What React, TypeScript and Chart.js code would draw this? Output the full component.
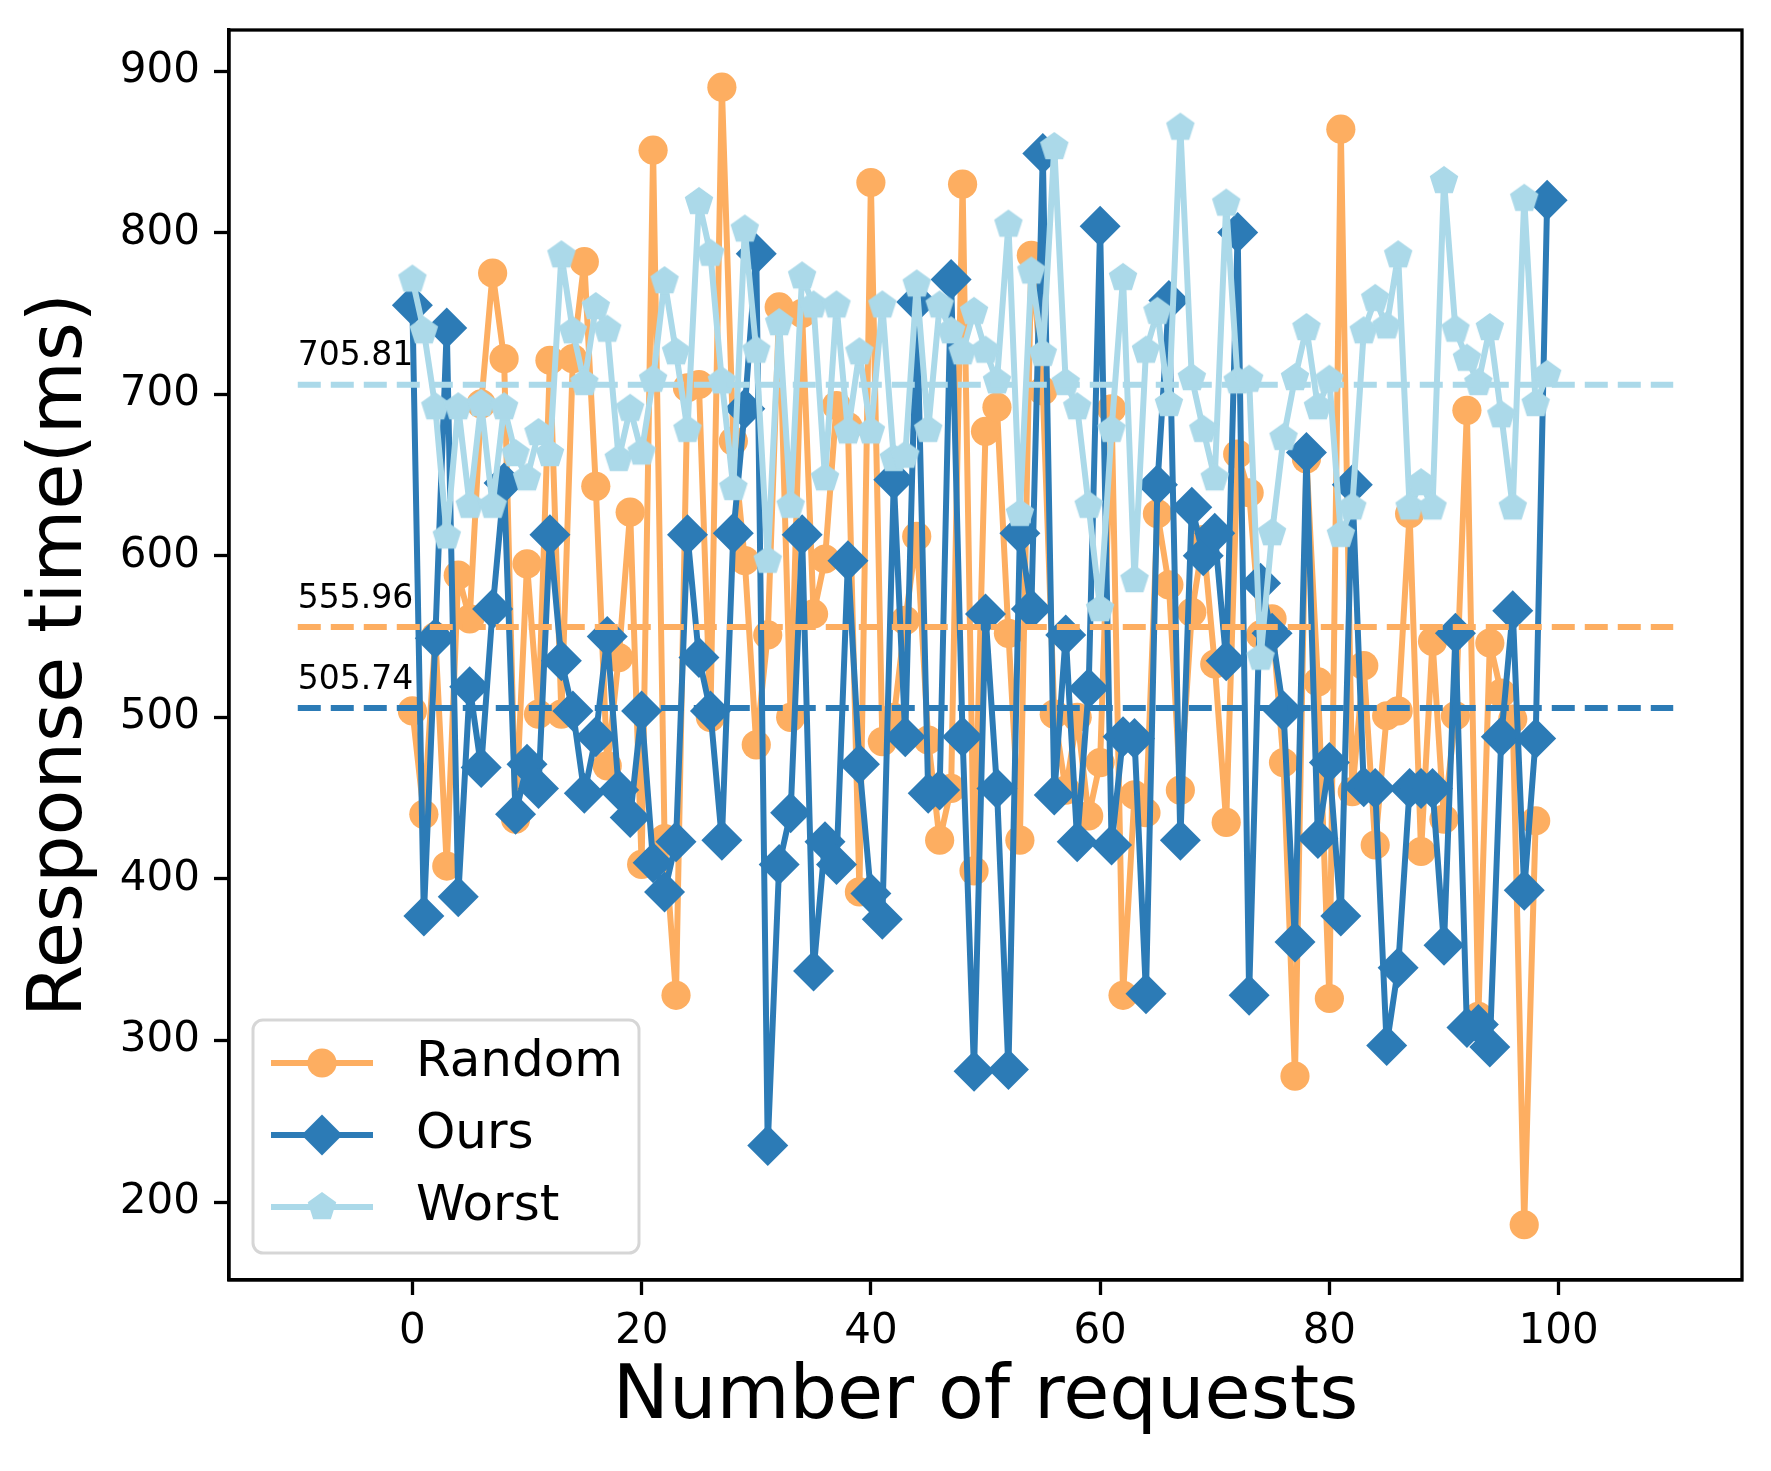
import { useEffect, useRef } from "react";
import { Chart, registerables } from "chart.js";

Chart.register(...registerables);

const W = 1771;
const H = 1471;

const seriesNames = ["Random", "Ours", "Worst"];
const seriesColors = ["#fdae61", "#2c7bb6", "#abd9e9"];

// response times per request
const randomTimes = [
  504, 440, 550, 408, 588, 561, 694, 775, 722, 437,
  595, 502, 721, 502, 722, 782, 643, 470, 537, 627,
  409, 851, 425, 328, 704, 706, 500, 890, 671, 597,
  483, 551, 754, 500, 750, 564, 598, 693, 680, 392,
  831, 485, 500, 560, 612, 486, 424, 456, 830, 405,
  677, 692, 552, 424, 786, 702, 502, 455, 500, 439,
  472, 691, 328, 452, 441, 626, 582, 455, 565, 610,
  533, 435, 663, 639, 551, 561, 472, 278, 660, 522,
  326, 864, 454, 532, 421, 501, 504, 626, 417, 547,
  437, 501, 690, 315, 546, 515, 499, 186, 436,
];

const oursTimes = [
  755, 377, 549, 741, 389, 519, 469, 567, 645, 440,
  471, 456, 613, 535, 504, 453, 488, 550, 455, 438,
  504, 410, 392, 423, 613, 537, 504, 424, 614, 691,
  787, 235, 409, 441, 613, 343, 423, 409, 597, 471,
  391, 375, 647, 488, 757, 453, 455, 771, 488, 281,
  564, 456, 282, 614, 567, 849, 452, 551, 423, 518,
  804, 421, 488, 487, 329, 644, 758, 424, 630, 600,
  614, 535, 800, 328, 583, 552, 504, 361, 664, 425,
  472, 377, 644, 457, 456, 297, 345, 456, 456, 456,
  359, 552, 308, 310, 296, 488, 566, 393, 487, 820,
];

const worstTimes = [
  771, 739, 692, 612, 692, 631, 694, 631, 692, 663,
  648, 676, 663, 786, 739, 707, 754, 740, 660, 691,
  664, 709, 770, 726, 678, 819, 787, 708, 642, 802,
  727, 597, 744, 631, 773, 755, 648, 755, 677, 726,
  677, 755, 660, 662, 768, 678, 755, 739, 726, 751,
  727, 708, 805, 626, 776, 725, 853, 707, 692, 631,
  567, 678, 772, 585, 727, 751, 694, 865, 710, 678,
  648, 818, 708, 709, 537, 614, 673, 710, 741, 692,
  709, 613, 630, 739, 759, 742, 786, 630, 645, 630,
  832, 740, 722, 707, 741, 687, 630, 821, 694, 712,
];

const meanValues = [555.96, 505.74, 705.81];

const xTicks = [0, 20, 40, 60, 80, 100];
const yTicks = [200, 300, 400, 500, 600, 700, 800, 900];

function makePentagon(color: string, r: number) {
  const size = Math.ceil(r * 2) + 4;
  const c = document.createElement("canvas");
  c.width = size;
  c.height = size;
  const g = c.getContext("2d")!;
  g.fillStyle = color;
  g.beginPath();
  for (let k = 0; k < 5; k++) {
    const a = -Math.PI / 2 + (k * 2 * Math.PI) / 5;
    const px = size / 2 + r * Math.cos(a);
    const py = size / 2 + r * Math.sin(a);
    if (k === 0) g.moveTo(px, py);
    else g.lineTo(px, py);
  }
  g.closePath();
  g.fill();
  return c;
}

const CIRCLE_R = 14.6;
const DIAMOND_R = 20.5;
const PENT_R = 15;

function drawMarker(ctx: CanvasRenderingContext2D, k: number, x: number, y: number, pent: HTMLCanvasElement) {
  ctx.fillStyle = seriesColors[k];
  if (k === 0) {
    ctx.beginPath();
    ctx.arc(x, y, CIRCLE_R, 0, Math.PI * 2);
    ctx.fill();
  } else if (k === 1) {
    ctx.beginPath();
    ctx.moveTo(x - DIAMOND_R, y);
    ctx.lineTo(x, y - DIAMOND_R);
    ctx.lineTo(x + DIAMOND_R, y);
    ctx.lineTo(x, y + DIAMOND_R);
    ctx.closePath();
    ctx.fill();
  } else {
    ctx.drawImage(pent, x - pent.width / 2, y - pent.height / 2);
  }
}

export default function App() {
  const canvasRef = useRef<HTMLCanvasElement>(null);
  const chartInstance = useRef<Chart | null>(null);

  useEffect(() => {
    if (!canvasRef.current) return;
    const ctx = canvasRef.current.getContext("2d");
    if (!ctx) return;

    if (chartInstance.current) {
      chartInstance.current.destroy();
    }

    const pentagon = makePentagon(seriesColors[2], PENT_R);

    const seriesSets = [randomTimes, oursTimes, worstTimes].map((vals, k) => ({
      type: "line" as const,
      label: seriesNames[k],
      data: vals.map((v, i) => ({ x: i, y: v })),
      borderColor: seriesColors[k],
      backgroundColor: seriesColors[k],
      borderWidth: 6,
      borderJoinStyle: "round" as const,
      pointStyle: ["circle", "rectRot", pentagon][k] as any,
      pointRadius: [CIRCLE_R, DIAMOND_R, PENT_R][k],
      pointBorderWidth: 0,
      tension: 0,
      order: 5 - k,
    }));

    const meanSets = meanValues.map((m, k) => ({
      type: "line" as const,
      label: "mean " + seriesNames[k],
      data: [
        { x: -10, y: m },
        { x: 110, y: m },
      ],
      borderColor: seriesColors[k],
      borderWidth: 6,
      borderDash: [23, 10],
      pointRadius: 0,
      order: k,
    }));

    const extras = {
      id: "extras",
      afterDatasetsDraw(chart: any) {
        const { ctx: c, chartArea: a, scales } = chart;
        c.save();

        // mean value labels
        c.font = "33px 'DejaVu Sans'";
        c.fillStyle = "#000";
        c.textAlign = "left";
        c.textBaseline = "alphabetic";
        meanValues.forEach((m) => {
          c.fillText(m.toFixed(2), scales.x.getPixelForValue(-10), scales.y.getPixelForValue(m + 12));
        });

        // axes frame
        c.strokeStyle = "#000";
        c.lineWidth = 3.3;
        c.strokeRect(a.left, a.top, a.right - a.left, a.bottom - a.top);

        // legend
        const bx = a.left + 24;
        const by = a.bottom - 260;
        const bw = 386;
        const bh = 233;
        c.beginPath();
        c.roundRect(bx, by, bw, bh, 10);
        c.fillStyle = "rgba(255,255,255,0.8)";
        c.fill();
        c.strokeStyle = "rgba(204,204,204,0.8)";
        c.lineWidth = 3;
        c.stroke();

        c.font = "50px 'DejaVu Sans'";
        c.textBaseline = "middle";
        seriesNames.forEach((name, k) => {
          const cy = by + 43 + k * 72;
          c.strokeStyle = seriesColors[k];
          c.lineWidth = 6;
          c.beginPath();
          c.moveTo(bx + 18, cy);
          c.lineTo(bx + 120, cy);
          c.stroke();
          drawMarker(c, k, bx + 69, cy, pentagon);
          c.fillStyle = "#000";
          c.fillText(name, bx + 163, cy);
        });

        c.restore();
      },
    };

    chartInstance.current = new Chart(ctx, {
      type: "line",
      data: { datasets: [...meanSets, ...seriesSets] as any },
      options: {
        responsive: false,
        animation: false,
        events: [],
        layout: { padding: { left: 0, top: 30, right: 29, bottom: 0 } },
        plugins: {
          legend: { display: false },
          tooltip: { enabled: false },
        },
        scales: {
          x: {
            type: "linear",
            min: -16,
            max: 116,
            afterBuildTicks: (s: any) => {
              s.ticks = xTicks.map((v) => ({ value: v }));
            },
            afterFit: (s: any) => {
              s.height = 191;
              s.paddingLeft = 0;
              s.paddingRight = 0;
            },
            grid: {
              drawOnChartArea: false,
              drawTicks: true,
              tickLength: 15,
              tickWidth: 3.3,
              tickColor: "#000",
            },
            border: { display: true, color: "#000", width: 3.3 },
            ticks: {
              color: "#000",
              padding: 12,
              autoSkip: false,
              maxRotation: 0,
              font: { family: "'DejaVu Sans'", size: 42 },
            },
            title: {
              display: true,
              text: "Number of requests",
              color: "#000",
              font: { family: "'DejaVu Sans'", size: 75, lineHeight: 1.2 },
              padding: { top: 0, bottom: 27 },
            },
          },
          y: {
            type: "linear",
            min: 151.8,
            max: 925.4,
            afterBuildTicks: (s: any) => {
              s.ticks = yTicks.map((v) => ({ value: v }));
            },
            afterFit: (s: any) => {
              s.width = 229;
              s.paddingTop = 0;
              s.paddingBottom = 0;
            },
            grid: {
              drawOnChartArea: false,
              drawTicks: true,
              tickLength: 15,
              tickWidth: 3.3,
              tickColor: "#000",
            },
            border: { display: true, color: "#000", width: 3.3 },
            ticks: {
              color: "#000",
              padding: 14,
              autoSkip: false,
              font: { family: "'DejaVu Sans'", size: 42 },
            },
            title: {
              display: true,
              text: "Response time(ms)",
              color: "#000",
              font: { family: "'DejaVu Sans'", size: 75, lineHeight: 1.2 },
              padding: { top: 17, bottom: 0 },
            },
          },
        },
      },
      plugins: [extras],
    });

    return () => {
      if (chartInstance.current) {
        chartInstance.current.destroy();
        chartInstance.current = null;
      }
    };
  }, []);

  return (
    <div style={{ position: "absolute", left: 0, top: 0, width: W, height: H, background: "white" }}>
      <canvas ref={canvasRef} width={W} height={H} style={{ width: W, height: H }} />
    </div>
  );
}
